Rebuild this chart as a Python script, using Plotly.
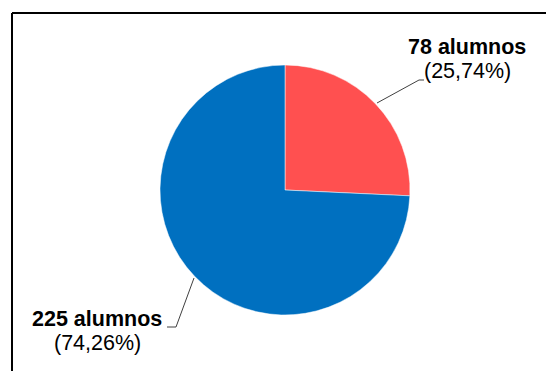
import plotly.graph_objects as go

# Distribución de alumnos
categories = ["Grupo A", "Grupo B"]
counts = [78, 225]
percent_labels = ["25,74%", "74,26%"]
colors = ["#FF5050", "#0070C0"]

W, H = 546, 371

def px(x):
    return x / W

def py(y):
    return 1 - y / H

fig = go.Figure(go.Pie(
    labels=categories,
    values=counts,
    sort=False,
    direction="clockwise",
    rotation=0,
    marker=dict(colors=colors, line=dict(color="white", width=0.5)),
    textinfo="none",
    hoverinfo="label+value+percent",
    showlegend=False,
    domain=dict(x=[px(160), px(410)], y=[py(315), py(65)]),
))

font_bold = dict(family="Liberation Sans, Arial, sans-serif", size=21.5, color="black")
font_reg = dict(family="Liberation Sans, Arial, sans-serif", size=21.5, color="black")

# label anchor positions (pixels) for each slice: (x center, y of first line)
label_pos = [(467, 47), (97, 319)]
annotations = []
for (cx, cy), n, pct in zip(label_pos, counts, percent_labels):
    annotations.append(dict(x=px(cx), y=py(cy), xref="paper", yref="paper",
                            text=f"<b>{n} alumnos</b>", showarrow=False,
                            font=font_bold, xanchor="center", yanchor="middle"))
    annotations.append(dict(x=px(cx), y=py(cy + 24), xref="paper", yref="paper",
                            text=f"({pct})", showarrow=False,
                            font=font_reg, xanchor="center", yanchor="middle"))

line_style = dict(color="#404040", width=1)
shapes = [
    # leader lines
    dict(type="path", xref="paper", yref="paper",
         path=f"M {px(377)} {py(103)} L {px(419)} {py(80)} L {px(424)} {py(80)}",
         line=line_style),
    dict(type="path", xref="paper", yref="paper",
         path=f"M {px(194)} {py(278)} L {px(176)} {py(327)} L {px(167)} {py(327)}",
         line=line_style),
    # frame
    dict(type="line", xref="paper", yref="paper", x0=px(12), x1=1.01, y0=py(13), y1=py(13),
         line=dict(color="black", width=2)),
    dict(type="line", xref="paper", yref="paper", x0=px(12), x1=px(12), y0=py(13), y1=-0.01,
         line=dict(color="black", width=2)),
]

fig.update_layout(
    width=W, height=H,
    margin=dict(l=0, r=0, t=0, b=0),
    paper_bgcolor="white",
    plot_bgcolor="white",
    annotations=annotations,
    shapes=shapes,
)

fig.write_html("out.html")
